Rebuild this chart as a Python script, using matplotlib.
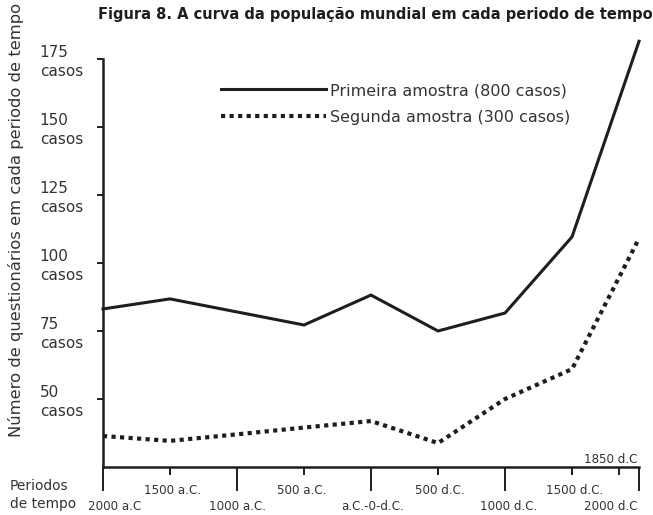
import matplotlib
matplotlib.use("Agg")
import matplotlib.pyplot as plt
import matplotlib.transforms as mtransforms

plt.rcParams['font.family'] = ['DejaVu Sans']

# ---- data ----
years = [-2000, -1500, -1000, -500, 0, 500, 1000, 1500, 2000]
primeira = [83.1, 86.8, 82.0, 77.2, 88.2, 75.0, 81.6, 109.6, 181.5]
segunda = [36.4, 34.6, 37.0, 39.5, 41.9, 33.8, 50.0, 61.0, 109.0]

label_primeira = "Primeira amostra (800 casos)"
label_segunda = "Segunda amostra (300 casos)"

y_ticks = [50, 75, 100, 125, 150, 175]
y_tick_labels = [f"{v}\ncasos" for v in y_ticks]

major_years = [-2000, -1000, 0, 1000, 2000]
major_labels = ["2000 a.C", "1000 a.C.", "a.C.-0-d.C.", "1000 d.C.", "2000 d.C"]
minor_years = [-1500, -500, 500, 1500, 1850]
minor_labels = ["1500 a.C.", "500 a.C.", "500 d.C.", "1500 d.C.", ""]
label_1850 = "1850 d.C"

title = "Figura 8. A curva da população mundial em cada periodo de tempo"
ylabel = "Número de questionários em cada periodo de tempo"
xlabel = "Periodos\nde tempo"

ink = "#1e1e1e"
txt = "#333333"

fig = plt.figure(figsize=(6.53, 5.15), dpi=100)
fig.patch.set_facecolor("white")
ax = fig.add_axes([0.1577, 0.0932, 0.8209, 0.8346])

ax.plot(years, primeira, color=ink, lw=2.2, solid_joinstyle="miter",
        label=label_primeira, clip_on=False)
ax.plot(years, segunda, color=ink, lw=3.0, linestyle=(0, (1, 1.05)),
        dash_capstyle="butt", label=label_segunda, clip_on=False)

ax.set_xlim(-2000, 2000)
ax.set_ylim(25, 183)

for s in ["top", "right"]:
    ax.spines[s].set_visible(False)
ax.spines["left"].set_bounds(25, 175)
for s in ["left", "bottom"]:
    ax.spines[s].set_linewidth(1.8)
    ax.spines[s].set_color(ink)

# y axis
ax.set_yticks(y_ticks)
ax.set_yticklabels(y_tick_labels, ha="left", linespacing=1.3)
ax.tick_params(axis="y", direction="out", length=4.5, width=1.4, color=ink,
               pad=41, labelsize=11, labelcolor=txt)

# x axis
ax.set_xticks(major_years)
ax.set_xticklabels(major_labels)
ax.set_xticks(minor_years, minor=True)
ax.set_xticklabels(minor_labels, minor=True)
ax.tick_params(axis="x", which="major", direction="out", length=17, width=1.4,
               color=ink, pad=7, labelsize=8.6, labelcolor=txt)
ax.tick_params(axis="x", which="minor", direction="out", length=5.8, width=1.4,
               color=ink, pad=6.5, labelsize=8.6, labelcolor=txt)

# small horizontal shifts of some labels, as in the reference
major_shift = [12, 1, 2, 4, -2]
minor_shift = [3, -2, 2, 3, 0]
for i, lab in enumerate(ax.get_xticklabels()):
    if i == 4:
        lab.set_ha("right")
    lab.set_transform(lab.get_transform() + mtransforms.ScaledTranslation(
        major_shift[i] / 100, 0, fig.dpi_scale_trans))
for i, lab in enumerate(ax.get_xticklabels(minor=True)):
    lab.set_transform(lab.get_transform() + mtransforms.ScaledTranslation(
        minor_shift[i] / 100, 0, fig.dpi_scale_trans))

ax.text(2000, 0.003, label_1850,
        transform=ax.get_xaxis_transform() + mtransforms.ScaledTranslation(
            -2 / 100, 0, fig.dpi_scale_trans),
        ha="right", va="bottom", fontsize=8.6, color=txt)

leg = ax.legend(loc="upper left", bbox_to_anchor=(221 / 653, 1 - 83 / 515),
                bbox_transform=fig.transFigure, frameon=False, fontsize=11.5,
                handlelength=6.6, handletextpad=0.2, labelspacing=0.74,
                borderpad=0, borderaxespad=0)
for t in leg.get_texts():
    t.set_color(txt)

fig.text(375 / 653, 1 - 15 / 515, title, ha="center", va="center",
         fontsize=10.5, fontweight="bold", color=ink)
fig.text(16 / 653, 1 - 220 / 515, ylabel, rotation=90, ha="center",
         va="center", fontsize=11.8, color=txt)
fig.text(10 / 653, 1 - 495 / 515, xlabel, ha="left", va="center",
         fontsize=9.9, color=txt, linespacing=1.3)

fig.savefig("out.png", dpi=100, facecolor="white")
